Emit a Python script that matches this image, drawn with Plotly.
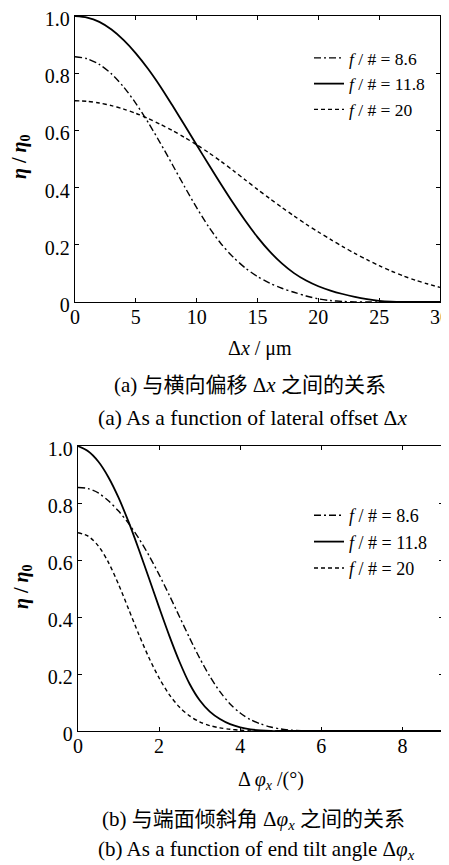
import plotly.graph_objects as go

# ---------------- data: (a) lateral offset ----------------
x_a = list(range(0, 31))
eta_a_86 = [0.858, 0.851, 0.831, 0.798, 0.752, 0.695, 0.629, 0.557, 0.481, 0.404,
            0.330, 0.262, 0.204, 0.157, 0.119, 0.089, 0.066, 0.048, 0.034, 0.021,
            0.011, 0.005, 0.002, 0, 0, 0, 0, 0, 0, 0, 0]
eta_a_118 = [1.000, 0.995, 0.980, 0.953, 0.916, 0.870, 0.816, 0.755, 0.688, 0.619,
             0.549, 0.480, 0.412, 0.346, 0.284, 0.227, 0.177, 0.135, 0.101, 0.075,
             0.055, 0.040, 0.028, 0.018, 0.010, 0.004, 0.001, 0, 0, 0, 0]
eta_a_20 = [0.704, 0.702, 0.696, 0.687, 0.675, 0.660, 0.642, 0.622, 0.600, 0.576,
            0.550, 0.522, 0.492, 0.460, 0.427, 0.394, 0.362, 0.331, 0.301, 0.272,
            0.245, 0.219, 0.194, 0.170, 0.148, 0.127, 0.108, 0.091, 0.076, 0.063, 0.051]

# ---------------- data: (b) end tilt angle ----------------
x_b = [i * 0.25 for i in range(0, 37)]
eta_b_86 = [0.855, 0.851, 0.836, 0.808, 0.772, 0.728, 0.676, 0.616, 0.549, 0.477,
            0.402, 0.327, 0.256, 0.192, 0.138, 0.095, 0.063, 0.040, 0.025, 0.014,
            0.007, 0.003, 0.001, 0, 0, 0, 0, 0, 0, 0, 0, 0, 0, 0, 0, 0, 0]
eta_b_118 = [1.000, 0.982, 0.946, 0.891, 0.819, 0.733, 0.637, 0.536, 0.434, 0.335,
             0.244, 0.166, 0.108, 0.068, 0.042, 0.024, 0.013, 0.006, 0.002, 0,
             0, 0, 0, 0, 0, 0, 0, 0, 0, 0, 0, 0, 0, 0, 0, 0, 0]
eta_b_20 = [0.696, 0.684, 0.650, 0.592, 0.515, 0.427, 0.339, 0.257, 0.186, 0.128,
            0.084, 0.053, 0.032, 0.019, 0.011, 0.006, 0.003, 0, 0, 0,
            0, 0, 0, 0, 0, 0, 0, 0, 0, 0, 0, 0, 0, 0, 0, 0, 0]

names = ["<i>f</i> / # = 8.6", "<i>f</i> / # = 11.8", "<i>f</i> / # = 20"]
y_ticks = [0, 0.2, 0.4, 0.6, 0.8, 1.0]
y_ticktext = ["0", "0.2", "0.4", "0.6", "0.8", "1.0"]
x_a_ticks = [0, 5, 10, 15, 20, 25, 30]
x_b_ticks = [0, 2, 4, 6, 8]

SERIF = "Liberation Serif"
CJK = "Liberation Serif, Noto Sans CJK SC"

# page body has an 8px margin: figure is placed at (8, 8) in the window
OFF = 8
W, H = 449 - OFF, 865 - OFF


def px(x):
    return (x - OFF) / W


def py(y):
    return 1 - (y - OFF) / H


styles = [dict(dash="7px,3px,2px,3px", width=1.4),
          dict(dash="solid", width=1.8),
          dict(dash="4px,3px", width=1.4)]

fig = go.Figure()
for ys, nm, st in zip([eta_a_86, eta_a_118, eta_a_20], names, styles):
    fig.add_trace(go.Scatter(x=x_a, y=ys, name=nm, mode="lines",
                             line=dict(color="black", shape="spline", smoothing=0.8, **st),
                             xaxis="x", yaxis="y", legend="legend"))
for ys, nm, st in zip([eta_b_86, eta_b_118, eta_b_20], names, styles):
    fig.add_trace(go.Scatter(x=x_b, y=ys, name=nm, mode="lines",
                             line=dict(color="black", shape="spline", smoothing=0.8, **st),
                             xaxis="x2", yaxis="y2", legend="legend2"))

axis_common = dict(showline=True, linecolor="black", linewidth=1.3, mirror="ticks",
                   ticks="inside", ticklen=4, tickcolor="black", tickwidth=1,
                   showgrid=False, zeroline=False, automargin=False,
                   ticklabeloverflow="allow",
                   tickfont=dict(family=SERIF, size=20, color="black"))
x_extra = dict(ticklabelstandoff=-3)
y_extra = dict(ticklabelshift=3)

legend_common = dict(xanchor="left", yanchor="top", bgcolor="rgba(0,0,0,0)",
                     borderwidth=0, tracegroupgap=0)

fig.update_layout(
    width=W, height=H,
    margin=dict(l=0, r=0, t=0, b=0, autoexpand=False),
    font=dict(family=SERIF, color="black"),
    paper_bgcolor="white", plot_bgcolor="white",
    xaxis=dict(domain=[px(75), px(440)], range=[0, 30.001], tickvals=x_a_ticks,
               anchor="y", **axis_common, **x_extra),
    yaxis=dict(domain=[py(302), py(16)], range=[0, 1.0005], tickvals=y_ticks,
               ticktext=y_ticktext, anchor="x", **axis_common, **y_extra),
    xaxis2=dict(domain=[px(78), px(443)], range=[0, 9], tickvals=x_b_ticks,
                anchor="y2", **axis_common, **x_extra),
    yaxis2=dict(domain=[py(731), py(446)], range=[0, 1.0005], tickvals=y_ticks,
                ticktext=y_ticktext, anchor="x2", **axis_common, **y_extra),
    legend=dict(x=px(309), y=py(40), font=dict(family=SERIF, size=17.5, color="black"),
                **legend_common),
    legend2=dict(x=px(309), y=py(497), font=dict(family=SERIF, size=18, color="black"),
                 **legend_common),
    showlegend=True,
)


def ann(text, x, y, size=20, angle=0, family=SERIF):
    fig.add_annotation(text=text, x=px(x), y=py(y), xref="paper", yref="paper",
                       showarrow=False, textangle=angle, xanchor="center", yanchor="middle",
                       font=dict(family=family, size=size, color="black"))


ann("<b><i>η</i> / <i>η</i><sub>0</sub></b>", 20, 157, size=20, angle=-90)
ann("<b><i>η</i> / <i>η</i><sub>0</sub></b>", 22, 587, size=20, angle=-90)
ann("Δ<i>x</i> / μm", 260, 348, size=20)
ann("(a) 与横向偏移 Δ<i>x</i> 之间的关系", 250, 385, size=21, family=CJK)
ann("(a) As a function of lateral offset Δ<i>x</i>", 252, 418, size=21.5)
ann("Δ <i>φ</i><sub><i>x</i></sub> /(°)", 271, 780, size=20)
ann("(b) 与端面倾斜角 Δ<i>φ</i><sub><i>x</i></sub> 之间的关系", 253, 820, size=21, family=CJK)
ann("(b) As a function of end tilt angle Δ<i>φ</i><sub><i>x</i></sub>", 257, 850, size=21)

fig.write_html("out.html")
